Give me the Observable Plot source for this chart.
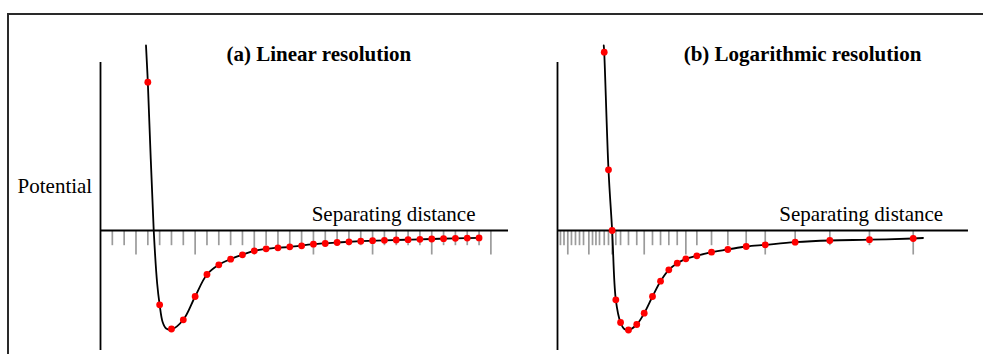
<!DOCTYPE html>
<html>
<head>
<meta charset="utf-8">
<script src="https://cdn.jsdelivr.net/npm/d3@7"></script>
<script src="https://cdn.jsdelivr.net/npm/@observablehq/plot@0.6"></script>
<style>
  html, body { margin: 0; padding: 0; background: #fff; overflow: hidden; }
  #wrap { position: relative; width: 983px; height: 354px; overflow: hidden; background: #fff; }
  #frame { position: absolute; left: 7px; top: 13px; width: 1100px; height: 500px; border: 2px solid #2a2a2a; box-sizing: border-box; }
  .panel { position: absolute; top: 0; }
  .panel svg { overflow: visible; background: transparent; }
  .panel svg text { font-family: "Liberation Serif", "Times New Roman", serif !important; }
</style>
</head>
<body>
<div id="wrap"><div id="frame"></div></div>
<script>
// ---------- data (distance in sample-step units, potential in well-depth units) ----------
// Panel (a): linear resolution - sample positions (ticks) every unit
const ticksA = [1,2,3,4,5,6,7,8,9,10,11,12,13,14,15,16,17,18,19,20,21,22,23,24,25,26,27,28,29,30,31,32,33];
const majorA = [3,8,13,18,23,28,33];
const dotRA = [4,5,6,7,8,9,10,11,12,13,14,15,16,17,18,19,20,21,22,23,24,25,26,27,28,29,30,31,32];
const dotVA = [1.483,-0.743,-0.985,-0.893,-0.66,-0.44,-0.343,-0.287,-0.243,-0.203,-0.183,-0.173,-0.163,-0.153,-0.137,-0.13,-0.12,-0.113,-0.107,-0.102,-0.098,-0.095,-0.092,-0.088,-0.085,-0.082,-0.078,-0.076,-0.074];
// traced curve points (panel a)
const curveRA = [3.846,4.0,4.5,4.79,5.0,5.25,5.55,6.0,7,8,9,10,11,12,13,14,16,18,20,22,24,26,28,30,32.1];
const curveVA = [1.85,1.483,0,-0.53,-0.743,-0.915,-0.98,-0.99,-0.893,-0.66,-0.44,-0.343,-0.287,-0.243,-0.203,-0.183,-0.163,-0.137,-0.12,-0.107,-0.098,-0.092,-0.085,-0.078,-0.074];

// Panel (b): logarithmic resolution - sample positions (ticks)
const ticksB = [0.25,0.55,0.87,1.18,1.52,1.86,2.2,2.65,2.96,3.25,3.55,3.95,4.31,4.62,4.93,5.33,6.0,6.7,7.33,8.03,8.71,9.41,10.12,10.85,11.78,13.02,14.4,15.95,17.56,20.09,23.02,26.37,30.07];
const majorB = [0.87,2.65,4.62,7.33,10.85,17.56,30.07];
const dotRB = [3.95,4.31,4.62,4.93,5.33,6.0,6.7,7.33,8.03,8.71,9.41,10.12,10.85,11.78,13.02,14.4,15.95,17.56,20.09,23.02,26.37,30.07];
const dotVB = [1.783,0.607,0,-0.693,-0.92,-0.995,-0.94,-0.827,-0.66,-0.507,-0.393,-0.327,-0.283,-0.253,-0.217,-0.19,-0.16,-0.143,-0.117,-0.1,-0.092,-0.08];
const curveRB = [3.91,3.95,4.31,4.62,4.93,5.33,5.65,6.0,6.7,7.33,8.03,8.71,9.41,10.12,10.85,11.78,13.02,14.4,15.95,17.56,20.09,23.02,26.37,30.07,30.9];
const curveVB = [1.85,1.783,0.607,0,-0.693,-0.92,-0.985,-0.995,-0.94,-0.827,-0.66,-0.507,-0.393,-0.327,-0.283,-0.253,-0.217,-0.19,-0.16,-0.143,-0.117,-0.1,-0.092,-0.08,-0.075];

const titles = ["(a) Linear resolution", "(b) Logarithmic resolution"];
const yLabel = "Potential";
const xLabel = "Separating distance";

// ---------- drawing ----------
const UNIT = 11.83;          // px per distance unit
const FONT = "'Liberation Serif', 'Times New Roman', serif";

function panel({left, width, originX, ticks, major, dotR, dotV, curveR, curveV, axisEnd, title, titleX, xLabelEnd, showYLabel}) {
  const tickData = ticks.map(r => ({r, major: major.includes(r)}));
  const dots = dotR.map((r, i) => ({r, v: dotV[i]}));
  const curve = curveR.map((r, i) => ({r, v: curveV[i]}));
  const ox = originX - left;
  const marks = [
    Plot.ruleX(tickData, {x: "r", y1: 0, y2: d => d.major ? -0.245 : -0.152, stroke: "#9b9b9b", strokeWidth: 1.7}),
    Plot.ruleY([0], {x1: 0, x2: axisEnd, stroke: "#000", strokeWidth: 1.8}),
    Plot.ruleX([0], {y1: -1.2, y2: 1.68, stroke: "#000", strokeWidth: 1.8}),
    Plot.line(curve, {x: "r", y: "v", curve: "catmull-rom", stroke: "#000", strokeWidth: 1.8}),
    Plot.dot(dots, {x: "r", y: "v", r: 3.4, fill: "#ff0000", stroke: "none"}),
    Plot.text([title], {x: titleX, y: 1.70, text: d => d, textAnchor: "middle", lineAnchor: "bottom", fontWeight: "bold", fontSize: 21, fontFamily: FONT, fill: "#000"}),
    Plot.text([xLabel], {x: xLabelEnd, y: 0.10, text: d => d, textAnchor: "end", lineAnchor: "bottom", fontSize: 21, fontFamily: FONT, fill: "#000"})
  ];
  if (showYLabel) marks.push(Plot.text([yLabel], {x: -0.7, y: 0.373, text: d => d, textAnchor: "end", lineAnchor: "bottom", fontSize: 21, fontFamily: FONT, fill: "#000"}));
  const svg = Plot.plot({
    width, height: 354, margin: 0,
    style: {fontFamily: FONT, background: "transparent", overflow: "visible"},
    x: {type: "linear", domain: [0, 40], range: [ox, ox + 40 * UNIT], axis: null},
    y: {domain: [-1.2, 1.68], range: [350, 62], axis: null},
    marks
  });
  const div = document.createElement("div");
  div.className = "panel";
  div.style.left = left + "px";
  div.appendChild(svg);
  document.getElementById("wrap").appendChild(div);
}

panel({left: 0, width: 520, originX: 100, ticks: ticksA, major: majorA, dotR: dotRA, dotV: dotVA,
       curveR: curveRA, curveV: curveVA, axisEnd: 34.49, title: titles[0], titleX: 18.46, xLabelEnd: 31.7, showYLabel: true});
panel({left: 520, width: 463, originX: 557, ticks: ticksB, major: majorB, dotR: dotRB, dotV: dotVB,
       curveR: curveRB, curveV: curveVB, axisEnd: 34.74, title: titles[1], titleX: 20.71, xLabelEnd: 32.6, showYLabel: false});
</script>
</body>
</html>
